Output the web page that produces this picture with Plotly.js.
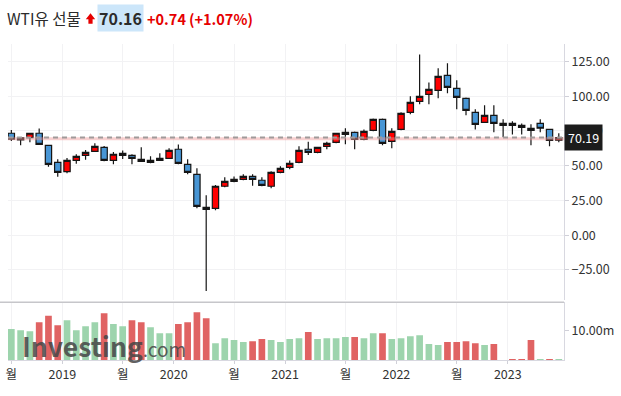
<!DOCTYPE html>
<html><head><meta charset="utf-8">
<script src="https://cdn.plot.ly/plotly-3.0.1.min.js"></script>
<style>html,body{margin:0;padding:0;background:#fff;}#chart{width:621px;height:396px;}</style>
</head><body><div id="chart"></div>
<script>
const months = ["2018-07","2018-08","2018-09","2018-10","2018-11","2018-12",
"2019-01","2019-02","2019-03","2019-04","2019-05","2019-06","2019-07","2019-08","2019-09","2019-10","2019-11","2019-12",
"2020-01","2020-02","2020-03","2020-04","2020-05","2020-06","2020-07","2020-08","2020-09","2020-10","2020-11","2020-12",
"2021-01","2021-02","2021-03","2021-04","2021-05","2021-06","2021-07","2021-08","2021-09","2021-10","2021-11","2021-12",
"2022-01","2022-02","2022-03","2022-04","2022-05","2022-06","2022-07","2022-08","2022-09","2022-10","2022-11","2022-12",
"2023-01","2023-02","2023-03","2023-04","2023-05","2023-06"];
const openP  = [73.3,68.5,70.1,73.3,64.6,52.4, 45.7,53.8,57.4,60.3,63.2,53.8,58.9,57.4,54.6,53.8,53.8,55.3,
 61.8,51.0,43.8,20.1,19.3,35.2,38.7,40.2,42.3,39.5,35.2,45.2, 48.8,52.4,61.8,59.6,63.9,66.8,72.5,74.0,68.9,75.4,83.3,67.5,
 76.1,88.4,96.3,101.3,104.2,115.0,105.6,98.4,88.4,81.2,86.2,80.4, 80.4,79.0,76.9,80.4,76.1,68.3];
const highP  = [75.6,70.3,73.5,76.8,65.0,54.6, 55.5,58.2,61.3,66.1,64.1,59.8,61.0,58.2,63.2,56.7,58.9,62.5,
 65.3,54.6,48.1,28.7,36.1,41.6,42.3,43.8,43.8,41.6,45.9,49.5, 53.8,63.9,67.2,63.6,67.2,73.6,76.9,74.5,76.1,84.0,84.0,76.9,
 88.4,99.9,130.0,109.9,120.0,123.6,111.4,99.1,90.5,93.4,93.4,83.3, 81.9,80.4,79.7,83.3,76.3,73.3];
const lowP   = [67.7,64.6,66.8,65.0,49.3,42.1, 44.5,51.4,54.3,59.8,53.1,51.0,54.8,51.0,52.8,51.7,53.3,54.8,
 51.0,43.8,19.3,-40.1,17.9,34.4,38.0,39.5,35.5,35.2,33.7,44.5, 47.4,51.7,57.6,58.9,61.8,66.1,65.4,61.8,68.2,74.7,64.7,62.5,
 75.4,86.9,94.1,94.1,98.4,102.0,90.5,86.2,76.1,81.0,74.0,70.4, 72.5,72.5,64.6,74.0,63.9,66.8];
const closeP = [69.0,70.0,73.3,65.3,51.0,45.2, 53.8,56.7,59.6,63.9,53.8,58.2,57.4,55.3,53.1,52.4,55.3,61.0,
 51.7,45.2,20.8,18.6,35.2,38.7,40.2,42.3,40.2,35.9,45.2,48.1, 51.7,61.0,59.6,63.2,66.1,73.3,74.0,68.9,74.7,83.3,66.1,74.7,
 87.6,95.5,99.9,104.9,114.2,106.3,99.1,89.8,79.7,86.2,80.4,79.0, 79.0,77.6,75.4,76.9,68.2,70.19];
const volumeM = [10.5,10.1,9.8,12.8,15.0,11.8, 13.5,10.1,11.5,12.8,15.9,12.2,11.5,13.5,12.8,11.1,9.1,9.1,
 12.2,12.8,16.2,14.2,5.7,7.4,6.8,6.1,6.4,7.1,6.8,6.1, 7.1,7.4,9.5,7.1,7.4,7.4,7.8,7.8,7.4,9.1,9.1,7.1,
 7.4,8.1,8.4,5.4,5.1,6.1,6.1,6.4,5.7,5.1,5.4,0, 0.3,0.3,6.8,0.3,0.3,0.3];
const volumeUp = [0,0,0,1,1,1, 0,0,0,0,1,0,0,1,1,0,0,0, 1,1,1,1,0,0,0,0,1,1,0,0,
 0,0,1,0,0,0,0,1,0,0,1,0, 0,0,0,0,0,1,1,1,1,0,1,0, 1,1,1,0,1,0];
const tickPos  = [0,5.5,12,17.5,24,29.5,36,41.5,48,53.5];
const tickText = ["월","2019","월","2020","월","2021","월","2022","월","2023"];
const priceTicks = [-25,0,25,50,75,100,125];
const volTicks = [10];
const volTickText = ["10.00m"];
const headerName = "WTI유 선물";
const headerPrice = 70.16;
const headerChange = 0.74;
const headerPct = 1.07;
const lastLabel = 70.19;

const idx = months.map((m,i)=>i);
const FONT = '"Noto Sans CJK KR","Noto Sans",sans-serif';
const L=8,R=564,T=44,B=360;
const px = x => (x-L)/(R-L);
const py = y => (B-y)/(B-T);
const prevClose = headerPrice - headerChange;

const candle = {
  type:'candlestick', x:idx, open:openP, high:highP, low:lowP, close:closeP,
  text:months, xaxis:'x', yaxis:'y', showlegend:false, whiskerwidth:0,
  increasing:{line:{color:'#151515',width:1.2}, fillcolor:'#ff0000'},
  decreasing:{line:{color:'#151515',width:1.2}, fillcolor:'#4896d5'}
};
const vol = {
  type:'bar', x:idx, y:volumeM, xaxis:'x', yaxis:'y2', showlegend:false,
  marker:{color:volumeUp.map(u=>u?'#e06363':'#9dd4ad'), line:{width:0}}
};

const layout = {
  width:621, height:396,
  margin:{l:L, r:621-R, t:T, b:396-B, pad:0},
  paper_bgcolor:'#fff', plot_bgcolor:'#fff',
  font:{family:FONT, size:12.5, color:'#333'},
  bargap:0.28, boxgap:0.32, boxgroupgap:0,
  xaxis:{range:[-0.36,59.56], anchor:'y2', tickmode:'array', tickvals:tickPos, ticktext:tickText,
    showgrid:true, gridcolor:'#f2f2f4', gridwidth:1, zeroline:false, rangeslider:{visible:false},
    showline:true, linecolor:'#d8d8e0', linewidth:1, ticks:'outside', ticklen:3, tickcolor:'#d0d0d8',
    tickfont:{family:FONT,size:12.5,color:'#333'}, fixedrange:true},
  yaxis:{domain:[(B-300)/(B-T),1], range:[-46.6,137.5], side:'right', tickmode:'array', tickvals:priceTicks,
    tickformat:'.2f', showgrid:true, gridcolor:'#f2f2f4', zeroline:false, showline:true, linecolor:'#d8d8e0',
    ticks:'outside', ticklen:4, tickcolor:'#d0d0d8', tickfont:{family:FONT,size:12.5,color:'#333'}},
  yaxis2:{domain:[0,(B-302.3)/(B-T)], range:[0,19.6], side:'right', tickmode:'array', tickvals:volTicks,
    ticktext:volTickText, showgrid:false, zeroline:false, showline:true, linecolor:'#d8d8e0',
    ticks:'outside', ticklen:4, tickcolor:'#d0d0d8', tickfont:{family:FONT,size:12.5,color:'#333'}},
  shapes:[
    {type:'line', xref:'paper', yref:'y', x0:0, x1:1, y0:prevClose, y1:prevClose, line:{color:'rgba(240,150,150,0.45)', width:3}},
    {type:'line', xref:'paper', yref:'y', x0:0, x1:1, y0:lastLabel, y1:lastLabel, line:{color:'#a09a9a', width:2, dash:'5px,4px'}},
    {type:'line', xref:'paper', yref:'paper', x0:px(0), x1:1, y0:py(302.3), y1:py(302.3), line:{color:'#c6c6ca', width:1.5}},
    {type:'path', xref:'paper', yref:'paper', fillcolor:'#e60000', line:{width:0},
      path:`M ${px(90.5)} ${py(13.3)} L ${px(95.2)} ${py(19.2)} L ${px(92.6)} ${py(19.2)} L ${px(92.6)} ${py(23.8)} L ${px(88.4)} ${py(23.8)} L ${px(88.4)} ${py(19.2)} L ${px(85.8)} ${py(19.2)} Z`}
  ],
  annotations:[
    {xref:'paper', yref:'paper', x:px(5), y:py(18), xanchor:'left', yanchor:'middle', showarrow:false,
      text:headerName, font:{family:FONT,size:15.5,color:'#2b2b2b'}},
    {xref:'paper', yref:'paper', x:px(120.8), y:py(18.3), xanchor:'center', yanchor:'middle', showarrow:false,
      text:'<b>'+headerPrice.toFixed(2)+'</b>', bgcolor:'#cce6fa', borderpad:1, font:{family:FONT,size:16,color:'#2b2b2b'}},
    {xref:'paper', yref:'paper', x:px(145), y:py(18.3), xanchor:'left', yanchor:'middle', showarrow:false,
      text:'<b>+'+headerChange.toFixed(2)+'</b>', font:{family:FONT,size:14.5,color:'#e60000'}},
    {xref:'paper', yref:'paper', x:px(186.7), y:py(18.3), xanchor:'left', yanchor:'middle', showarrow:false,
      text:'<b>(+'+headerPct.toFixed(2)+'%)</b>', font:{family:FONT,size:14.5,color:'#e60000'}},
    {xref:'paper', yref:'y', x:1, y:lastLabel, xanchor:'left', yanchor:'middle', showarrow:false,
      text:lastLabel.toFixed(2), bgcolor:'#1c1c1c', borderpad:3, font:{family:FONT,size:12.5,color:'#fff'}},
    {xref:'paper', yref:'paper', x:px(20), y:py(345), xanchor:'left', yanchor:'middle', showarrow:false,
      text:'<b>Investing</b><span style="font-size:19px">.com</span>', font:{family:FONT,size:26.5,color:'rgba(70,70,70,0.85)'}}
  ]
};
Plotly.newPlot('chart',[candle,vol],layout,{displayModeBar:false,staticPlot:true});
</script></body></html>
